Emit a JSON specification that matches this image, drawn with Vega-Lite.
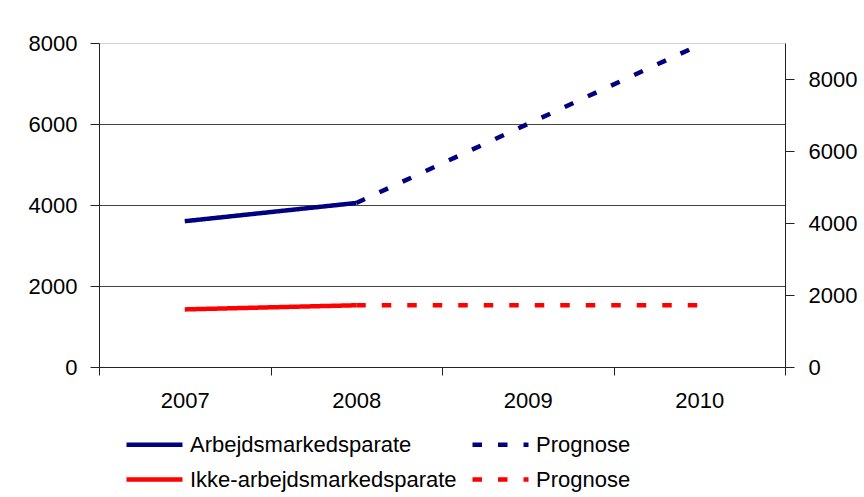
{
  "$schema": "https://vega.github.io/schema/vega-lite/v6.json",
  "width": 686,
  "height": 324,
  "autosize": {"type": "none"},
  "padding": {"left": 99, "top": 43, "right": 79, "bottom": 130},
  "background": "white",
  "config": {
    "view": {"stroke": null},
    "font": "Liberation Sans",
    "axis": {"labelFont": "Liberation Sans", "labelFontSize": 22, "labelColor": "black", "domainColor": "#222", "tickColor": "#222", "title": null, "format": "d"},
    "legend": {"labelFont": "Liberation Sans", "labelFontSize": 22, "labelColor": "black", "labelLimit": 0}
  },
  "data": {
    "values": [
      {"series": "1 Arbejdsmarkedsparate", "year": "2007", "value": 3600, "side": "left"},
      {"series": "1 Arbejdsmarkedsparate", "year": "2008", "value": 4050, "side": "left"},
      {"series": "2 Prognose", "year": "2008", "value": 4050, "side": "left"},
      {"series": "2 Prognose", "year": "2009", "value": 6000, "side": "left"},
      {"series": "2 Prognose", "year": "2010", "value": 7950, "side": "left"},
      {"series": "3 Ikke-arbejdsmarkedsparate", "year": "2007", "value": 1600, "side": "right"},
      {"series": "3 Ikke-arbejdsmarkedsparate", "year": "2008", "value": 1715, "side": "right"},
      {"series": "4 Prognose", "year": "2008", "value": 1715, "side": "right"},
      {"series": "4 Prognose", "year": "2009", "value": 1715, "side": "right"},
      {"series": "4 Prognose", "year": "2010", "value": 1715, "side": "right"}
    ]
  },
  "encoding": {
    "x": {
      "field": "year", "type": "ordinal",
      "scale": {"type": "band", "paddingInner": 0, "paddingOuter": 0, "domain": ["2007", "2008", "2009", "2010"]},
      "bandPosition": 0.5,
      "axis": {"labelAngle": 0, "tickBand": "extent", "tickSize": 8, "labelPadding": 15, "grid": false, "domainColor": "#222"}
    },
    "color": {
      "field": "series", "type": "nominal",
      "scale": {"domain": ["1 Arbejdsmarkedsparate", "2 Prognose", "3 Ikke-arbejdsmarkedsparate", "4 Prognose"], "range": ["#000080", "#000080", "#FF0000", "#FF0000"]},
      "legend": {
        "title": null, "orient": "none", "legendX": 25, "legendY": 383, "direction": "horizontal", "columns": 2, "columnPadding": 6, "rowPadding": 5,
        "symbolType": "M-1,0H2.5", "symbolSize": 1024, "symbolStrokeWidth": 4.5, "labelOffset": 29,
        "labelExpr": "slice(datum.label, 2)"
      }
    },
    "strokeDash": {
      "field": "series", "type": "nominal",
      "scale": {"domain": ["1 Arbejdsmarkedsparate", "2 Prognose", "3 Ikke-arbejdsmarkedsparate", "4 Prognose"], "range": [[1, 0], [9.5, 16], [1, 0], [9.5, 16]]},
      "legend": {
        "title": null, "orient": "none", "legendX": 25, "legendY": 383, "direction": "horizontal", "columns": 2, "columnPadding": 6, "rowPadding": 5,
        "symbolType": "M-1,0H2.5", "symbolSize": 1024, "symbolStrokeWidth": 4.5, "labelOffset": 29,
        "labelExpr": "slice(datum.label, 2)"
      }
    }
  },
  "layer": [
    {
      "transform": [{"filter": "datum.side == 'left'"}],
      "mark": {"type": "line", "strokeWidth": 4.5, "strokeCap": "butt"},
      "encoding": {
        "y": {
          "field": "value", "type": "quantitative",
          "scale": {"domain": [0, 8000], "nice": false, "zero": true},
          "axis": {
            "values": [0, 2000, 4000, 6000, 8000], "tickSize": 9, "labelPadding": 13,
            "grid": true,
            "gridColor": {"condition": {"test": "datum.value == 8000", "value": "#d0d0d0"}, "value": "#444"},
            "gridWidth": 1.2
          }
        }
      }
    },
    {
      "transform": [{"filter": "datum.side == 'right'"}],
      "mark": {"type": "line", "strokeWidth": 4.5, "strokeCap": "butt"},
      "encoding": {
        "y": {
          "field": "value", "type": "quantitative",
          "scale": {"domain": [0, 9000], "nice": false, "zero": true},
          "axis": {"orient": "right", "values": [0, 2000, 4000, 6000, 8000], "tickSize": 9, "labelPadding": 14, "grid": false}
        }
      }
    }
  ],
  "resolve": {"scale": {"y": "independent"}}
}
